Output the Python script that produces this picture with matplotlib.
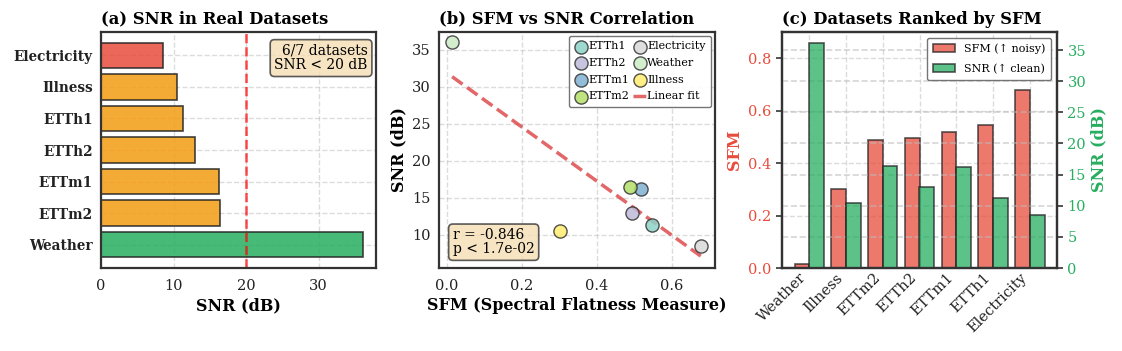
import numpy as np
import matplotlib
matplotlib.use("Agg")
import matplotlib.pyplot as plt

plt.rcParams['font.family'] = ['DejaVu Serif']

# Panel (a) data (sorted by SNR)
a_names = ["Electricity", "Illness", "ETTh1", "ETTh2", "ETTm1", "ETTm2", "Weather"]
a_snr = [8.5, 10.5, 11.3, 13.0, 16.2, 16.4, 36.1]

# Panel (b) data
b_names = ["ETTh1", "ETTh2", "ETTm1", "ETTm2", "Electricity", "Weather", "Illness"]
b_sfm = [0.546, 0.494, 0.517, 0.489, 0.677, 0.015, 0.302]
b_snr = [11.3, 13.0, 16.2, 16.4, 8.5, 36.1, 10.5]

# Panel (c) data (ranked by SFM)
c_names = ["Weather", "Illness", "ETTm2", "ETTh2", "ETTm1", "ETTh1", "Electricity"]
c_sfm = [0.015, 0.302, 0.489, 0.494, 0.517, 0.546, 0.677]
c_snr = [36.1, 10.5, 16.4, 13.0, 16.2, 11.3, 8.5]

RED = '#e74c3c'
ORANGE = '#f39c12'
GREEN = '#27ae60'
SPINE = '#333333'

fig = plt.figure(figsize=(11.22, 3.51), dpi=100)
ax1 = fig.add_axes([101/1122, 1-268/351, 275/1122, 236/351])
ax2 = fig.add_axes([439/1122, 1-268/351, 276/1122, 236/351])
ax3 = fig.add_axes([782/1122, 1-268/351, 275/1122, 236/351])

def style(ax):
    for s in ax.spines.values():
        s.set_color(SPINE)
        s.set_linewidth(1.6)
    ax.grid(True, linestyle='--', color='#bbbbbb', alpha=0.5, linewidth=1.0)
    ax.set_axisbelow(True)
    ax.tick_params(labelsize=10.5, colors='#222222', length=0, pad=6)

TFS = 11.8

# ---------- (a)
style(ax1)
cols = [RED if v < 10 else (ORANGE if v < 20 else GREEN) for v in a_snr]
y = np.arange(len(a_names))
ax1.barh(y, a_snr, color=cols, alpha=0.85, edgecolor='#222222', linewidth=1.2, height=0.8)
ax1.set_yticks(y)
ax1.set_yticklabels(a_names, fontweight='bold', fontsize=9.8)
ax1.invert_yaxis()
ax1.axvline(20, color='red', linestyle='--', linewidth=1.8, alpha=0.7)
ax1.set_xlabel('SNR (dB)', fontsize=11.5, fontweight='bold', labelpad=3)
ax1.set_title('(a) SNR in Real Datasets', fontsize=TFS, fontweight='bold', pad=6, loc='left')
n_low = sum(1 for v in a_snr if v < 20)
ax1.text(0.97, 0.95, f'{n_low}/{len(a_snr)} datasets\nSNR < 20 dB', transform=ax1.transAxes,
         ha='right', va='top', fontsize=10, linespacing=1.05,
         bbox=dict(boxstyle='round,pad=0.3', facecolor='wheat', alpha=0.8, edgecolor='#333333', linewidth=1.2))
ax1.tick_params(axis='x', pad=8)

# ---------- (b)
style(ax2)
pal = plt.cm.Set3(np.linspace(0, 1, len(b_names)))
for i, n in enumerate(b_names):
    ax2.scatter(b_sfm[i], b_snr[i], s=90, color=pal[i], edgecolor='#333333', linewidth=1.0,
                alpha=0.85, label=n, zorder=3)
coef = np.polyfit(b_sfm, b_snr, 1)
xs = np.array([min(b_sfm), max(b_sfm)])
ax2.plot(xs, np.polyval(coef, xs), '--', color='#d62728', alpha=0.7, linewidth=2.5, label='Linear fit', zorder=2)
r = np.corrcoef(b_sfm, b_snr)[0, 1]
ax2.text(0.05, 0.05, f'r = {r:.3f}\np < 1.7e-02', transform=ax2.transAxes, ha='left', va='bottom',
         fontsize=10, linespacing=1.0,
         bbox=dict(boxstyle='round,pad=0.3', facecolor='wheat', alpha=0.8, edgecolor='#333333', linewidth=1.2))
ax2.set_xlabel('SFM (Spectral Flatness Measure)', fontsize=11.5, fontweight='bold', labelpad=3)
ax2.set_ylabel('SNR (dB)', fontsize=11.5, fontweight='bold', labelpad=3)
ax2.set_title('(b) SFM vs SNR Correlation', fontsize=TFS, fontweight='bold', pad=6, loc='left')
ax2.set_xticks([0.0, 0.2, 0.4, 0.6])
ax2.set_yticks([10, 15, 20, 25, 30, 35])
ax2.set_xlim(-0.02, 0.715)
ax2.set_ylim(5.5, 37.4)
ax2.tick_params(axis='x', pad=8)
ax2.legend(ncol=2, fontsize=8, loc='upper right', handletextpad=0.05, columnspacing=0.35,
           borderpad=0.5, labelspacing=0.6, handlelength=1.2, framealpha=0.9, edgecolor='#666666',
           borderaxespad=0.35)

# ---------- (c)
style(ax3)
x = np.arange(len(c_names))
w = 0.4
ax3.bar(x - w/2, c_sfm, w, color=RED, alpha=0.75, edgecolor='#222222', linewidth=1.2, label='SFM (↑ noisy)')
ax3.set_ylim(0, 0.9)
ax3.set_ylabel('SFM', color=RED, fontsize=11.5, fontweight='bold', labelpad=3)
ax3.tick_params(axis='y', colors=RED, length=4, direction='out', width=1.2, pad=4)
ax3.tick_params(axis='y', labelcolor=RED)
ax3.set_yticks([0.0, 0.2, 0.4, 0.6, 0.8])
ax3.set_xticks(x)
ax3.set_xticklabels(c_names, rotation=45, ha='right', fontsize=10.5)
ax3.tick_params(axis='x', pad=2)
ax3.set_title('(c) Datasets Ranked by SFM', fontsize=TFS, fontweight='bold', pad=6, loc='left')
ax3b = ax3.twinx()
ax3b.bar(x + w/2, c_snr, w, color=GREEN, alpha=0.75, edgecolor='#222222', linewidth=1.2, label='SNR (↑ clean)')
ax3b.set_ylim(0, max(c_snr) * 1.05)
ax3b.grid(True, linestyle='--', color='#bbbbbb', alpha=0.6, linewidth=1.2)
ax3b.set_axisbelow(True)
ax3b.set_ylabel('SNR (dB)', color=GREEN, fontsize=11.5, fontweight='bold', labelpad=3)
ax3b.tick_params(axis='y', colors=GREEN, labelcolor=GREEN, length=4, width=1.2, labelsize=10.5)
ax3b.tick_params(axis='y', color=SPINE)
ax3.tick_params(axis='y', color=SPINE)
for s in ax3b.spines.values():
    s.set_color(SPINE)
    s.set_linewidth(1.6)
h1, l1 = ax3.get_legend_handles_labels()
h2, l2 = ax3b.get_legend_handles_labels()
ax3b.legend(h1 + h2, l1 + l2, loc='upper right', fontsize=8, framealpha=0.9, edgecolor='#666666',
            labelspacing=0.85, borderpad=0.55)

fig.savefig('out.png', dpi=100)
